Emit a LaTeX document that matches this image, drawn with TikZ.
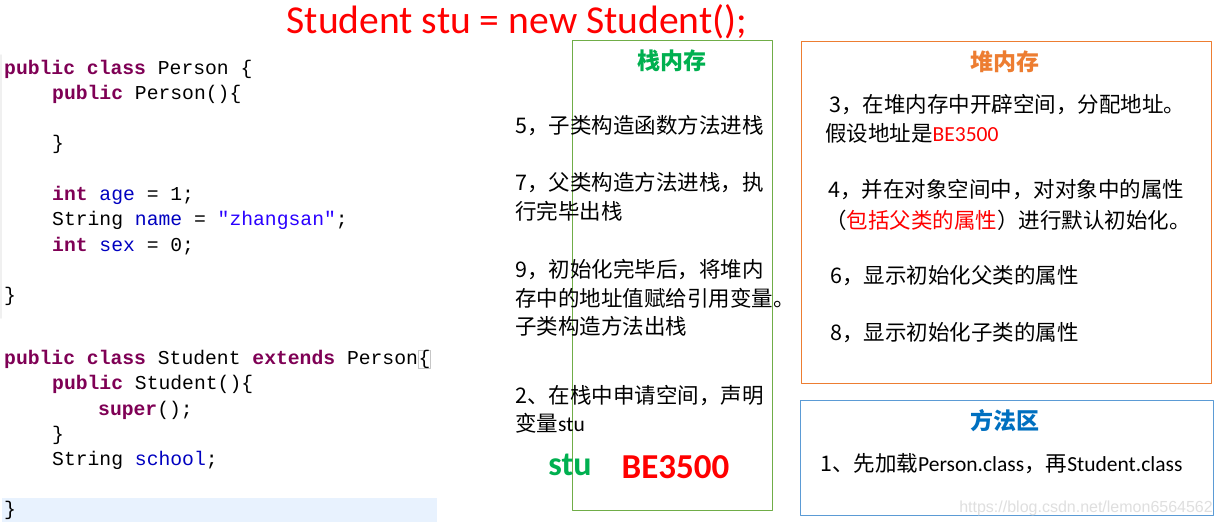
\documentclass[tikz,border=0pt]{standalone}
\usepackage{fontspec}
\setmainfont{Carlito}
\newfontfamily\cjk{Noto Sans CJK SC}
\newfontfamily\lat{Carlito}
\newfontfamily\codefont{Liberation Mono}
\usetikzlibrary{positioning}
\definecolor{kwcol}{HTML}{7F0055}
\definecolor{fldcol}{HTML}{0000C0}
\definecolor{strcol}{HTML}{2A00FF}
\definecolor{stackcol}{HTML}{70AD47}
\definecolor{stacktxt}{HTML}{00B050}
\definecolor{heapcol}{HTML}{ED7D31}
\definecolor{methodcol}{HTML}{5B9BD5}
\definecolor{methodtxt}{HTML}{0070C0}
\definecolor{hilite}{HTML}{E8F2FE}
\newcommand{\kw}[1]{{\bfseries\color{kwcol}#1}}
\newcommand{\fld}[1]{{\color{fldcol}#1}}
\newcommand{\strg}[1]{{\color{strcol}#1}}

\begin{document}
\begin{tikzpicture}[line cap=round,line join=round,x=1pt,y=-1pt]
\tikzset{
    code/.style={anchor=west, inner sep=0pt, text height=14pt, text depth=4pt,
        font=\codefont\fontsize{19.7}{22}\selectfont},
    zh/.style={anchor=west, inner sep=0pt, text height=18pt, text depth=4pt,
        font=\cjk\fontsize{21.5}{25}\selectfont},
    zhtitle/.style={inner sep=0pt, font=\cjk\bfseries\fontsize{23}{26}\selectfont},
    area/.style={draw, line width=1pt, inner sep=0pt}
}
\def\xa{4}
\def\xb{52}
\def\xm{515}

\useasboundingbox (0,0) rectangle (1223,528);
\fill[white] (0,0) rectangle (1223,528);

% code
\draw[gray!12, line width=1.5pt] (1,55) -- (1,318);
\fill[hilite] (2,498) rectangle (437,522);
\node (p1) [code] at (\xa,69) {\kw{public class} Person \{};
\node (p2) [code] at (\xb,94) {\kw{public} Person()\{};
\node (p3) [code] at (\xb,144) {\}};
\node (p4) [code] at (\xb,195) {\kw{int} \fld{age} = 1;};
\node (p5) [code] at (\xb,220) {String \fld{name} = \strg{"zhangsan"};};
\node (p6) [code] at (\xb,246) {\kw{int} \fld{sex} = 0;};
\node (p7) [code] at (\xa,296) {\}};

\node (s1) [code] at (\xa,359) {\kw{public class} Student \kw{extends} Person};
\node (s1b) [code, draw=gray!45, line width=0.8pt, right=0pt of s1] {\{};
\node (s2) [code] at (\xb,384) {\kw{public} Student()\{};
\node (s3) [code] at (98,410) {\kw{super}();};
\node (s4) [code] at (\xb,435) {\}};
\node (s5) [code] at (\xb,460) {String \fld{school};};
\node (s6) [code] at (\xa,510) {\}};

% title
\node (title) [text=red, inner sep=0pt, font=\fontsize{39.6}{44}\selectfont] at (517,22)
    {Student stu = new Student();};

% stack
\node (stack) [area, draw=stackcol, minimum width=200pt, minimum height=470pt] at (672,275) {};
\node (stackt) [zhtitle, text=stacktxt] at (672,61) {栈内存};
\node (m5) [zh] at (\xm,126) {5，子类构造函数方法进栈};
\node (m7a) [zh] at (\xm,183) {7，父类构造方法进栈，执};
\node (m7b) [zh] at (\xm,212) {行完毕出栈};
\node (m9a) [zh] at (\xm,270) {9，初始化完毕后，将堆内};
\node (m9b) [zh] at (\xm,299) {存中的地址值赋给引用变量。};
\node (m9c) [zh] at (\xm,327) {子类构造方法出栈};
\node (m2a) [zh] at (\xm,396) {2、在栈中申请空间，声明};
\node (m2b) [zh] at (\xm,424) {变量{\lat stu}};
\node (stu) [inner sep=0pt, text=stacktxt, font=\bfseries\fontsize{34}{38}\selectfont] at (570,465) {stu};
\node (addr) [inner sep=0pt, text=red, font=\bfseries\fontsize{35}{38}\selectfont] at (675.5,467) {BE3500};

% heap
\node (heap) [area, draw=heapcol, minimum width=410pt, minimum height=342pt] at (1006,212) {};
\node (heapt) [zhtitle, text=heapcol] at (1005,62) {堆内存};
\node (h3a) [zh] at (829,105) {3，在堆内存中开辟空间，分配地址。};
\node (h3b) [zh] at (825,134) {假设地址是\textcolor{red}{\lat BE3500}};
\node (h4a) [zh] at (828,190) {4，并在对象空间中，对对象中的属性};
\node (h4b) [zh] at (825,221) {（\textcolor{red}{包括父类的属性}）进行默认初始化。};
\node (h6) [zh] at (830,276) {6，显示初始化父类的属性};
\node (h8) [zh] at (830,333) {8，显示初始化子类的属性};

% method area
\node (method) [area, draw=methodcol, minimum width=413pt, minimum height=115pt] at (1006.5,457.5) {};
\node (methodt) [zhtitle, text=methodtxt] at (1005,421) {方法区};
\node (load) [zh] at (820,464) {1、先加载{\lat Person.class}，再{\lat Student.class}};

\node (mark) [anchor=east, inner sep=0pt, text=gray!25, font=\fontspec{Liberation Sans}\fontsize{16}{18}\selectfont]
    at (1213,508) {https://blog.csdn.net/lemon6564562};
\end{tikzpicture}
\end{document}
